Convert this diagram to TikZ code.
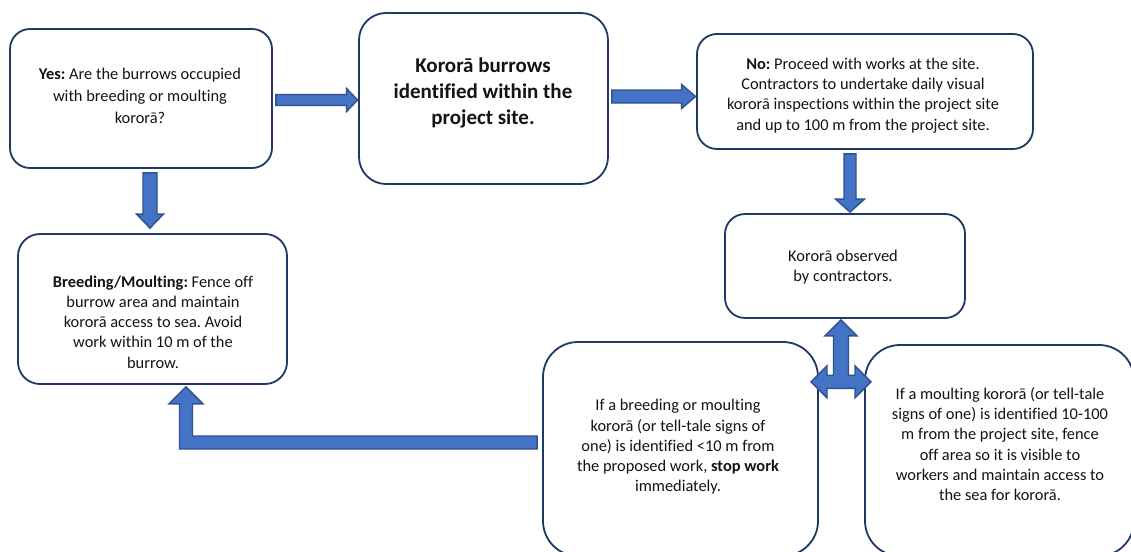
\documentclass[tikz,border=0pt]{standalone}
\usepackage{fontspec}
\setmainfont{Carlito}[Ligatures=NoCommon]
\frenchspacing
\usetikzlibrary{calc}
\definecolor{boxline}{HTML}{1F3864}
\definecolor{arrfill}{HTML}{4472C4}
\definecolor{arrline}{HTML}{2F528F}
\definecolor{txtcol}{HTML}{141414}
\tikzset{
  box/.style={draw=boxline, line width=1.8pt, fill=white, rounded corners=#1, inner sep=0pt},
  box/.default=20pt,
  blk/.style={fill=arrfill, draw=arrline, line width=1.4pt, line join=miter},
  txt/.style={align=center, text=txtcol, inner sep=0pt, font=\fontsize{16.4}{20.2}\selectfont},
}
\newcommand\rightblock[5]{\draw[blk] let \p1=#1, \p2=#2 in
  (\x1,\y1+#3) -- (\x2-#5,\y1+#3) -- (\x2-#5,\y1+#4) -- (\x2,\y1) --
  (\x2-#5,\y1-#4) -- (\x2-#5,\y1-#3) -- (\x1,\y1-#3) -- cycle;}
\newcommand\downblock[5]{\draw[blk] let \p1=#1, \p2=#2 in
  (\x1-#3,\y1) -- (\x1-#3,\y2+#5) -- (\x1-#4,\y2+#5) -- (\x1,\y2) --
  (\x1+#4,\y2+#5) -- (\x1+#3,\y2+#5) -- (\x1+#3,\y1) -- cycle;}
\begin{document}
\begin{tikzpicture}[x=1pt,y=-1pt]
\useasboundingbox (0,0) rectangle (1131,551);
\clip (0,0) rectangle (1131,551);
% boxes
\node[box, minimum width=262pt, minimum height=139pt] (yes) at (141,98.5) {};
\node[box=27pt, minimum width=249pt, minimum height=171pt] (ctr) at (483.5,98.5) {};
\node[box, minimum width=336pt, minimum height=115pt] (no) at (865,91.5) {};
\node[box, minimum width=240pt, minimum height=104pt] (obs) at (845,266) {};
\node[box=22pt, minimum width=269pt, minimum height=150pt] (breed) at (152.5,309) {};
\node[box=35pt, minimum width=275pt, minimum height=214pt] (lb) at (680.5,449) {};
\node[box=35pt, minimum width=269pt, minimum height=211pt] (rb) at (999.5,450.5) {};
% texts
\node[txt, font=\fontsize{16.4}{21.7}\selectfont] (yest) at (140,96)
  {\textbf{Yes:} Are the burrows occupied\\ with breeding or moulting\\ kororā?};
\node[txt, font=\bfseries\fontsize{21}{25.6}\selectfont] (ctrt) at (483,93)
  {Kororā burrows\\ identified within the\\ project site.};
\node[txt] (not) at (863,95.5)
  {\textbf{No:} Proceed with works at the site.\\ Contractors to undertake daily visual\\ kororā inspections within the project site\\ and up to 100 m from the project site.};
\node[txt] (obst) at (843,267) {Kororā observed\\ by contractors.};
\node[txt] (breedt) at (153,322)
  {\textbf{Breeding/Moulting:} Fence off\\ burrow area and maintain\\ kororā access to sea. Avoid\\ work within 10 m of the\\ burrow.};
\node[txt] (lbt) at (678,447)
  {If a breeding or moulting\\ kororā (or tell-tale signs of\\ one) is identified <10 m from\\ the proposed work, \textbf{stop work}\\ immediately.};
\node[txt] (rbt) at (1000,444)
  {If a moulting kororā (or tell-tale\\ signs of one) is identified 10-100\\ m from the project site, fence\\ off area so it is visible to\\ workers and maintain access to\\ the sea for kororā.};
% arrows
\rightblock{($(yes.east)+(3,1.5)$)}{($(ctr.west)+(-0.5,0)$)}{5.5pt}{11.5pt}{11pt}
\rightblock{($(ctr.east)+(3,-2)$)}{($(no.west)+(-0.5,0)$)}{6.5pt}{12pt}{14pt}
\downblock{($(yes.south)+(9,4)$)}{($(breed.north)+(0,-5)$)}{7pt}{13.5pt}{14pt}
\downblock{($(no.south)+(-15,4)$)}{($(obs.north)+(0,-1)$)}{6pt}{14.5pt}{13pt}
\draw[blk] let \p1=($(lb.west)+(-5,-6.5)$), \p2=($(breed.south)+(33.5,2)$) in
  (\x1,\y1+6.5pt) -- (\x2+6.5pt,\y1+6.5pt) -- (\x2+6.5pt,\y2-17pt) -- (\x2+17pt,\y2-17pt) --
  (\x2,\y2) -- (\x2-17pt,\y2-17pt) -- (\x2-6.5pt,\y2-17pt) -- (\x2-6.5pt,\y1-6.5pt) --
  (\x1,\y1-6.5pt) -- cycle;
\coordinate (hub) at ($(obs.south)+(-4,63)$);
\draw[blk, shift={(hub)}] (0,-62) -- (16,-46) -- (7.5,-46) -- (7.5,-6.5) -- (14,-6.5) -- (14,-16)
  -- (30,0) -- (14,16) -- (14,6.5) -- (-14,6.5) -- (-14,16) -- (-30,0) -- (-14,-16)
  -- (-14,-6.5) -- (-7.5,-6.5) -- (-7.5,-46) -- (-16,-46) -- cycle;
\end{tikzpicture}
\end{document}
